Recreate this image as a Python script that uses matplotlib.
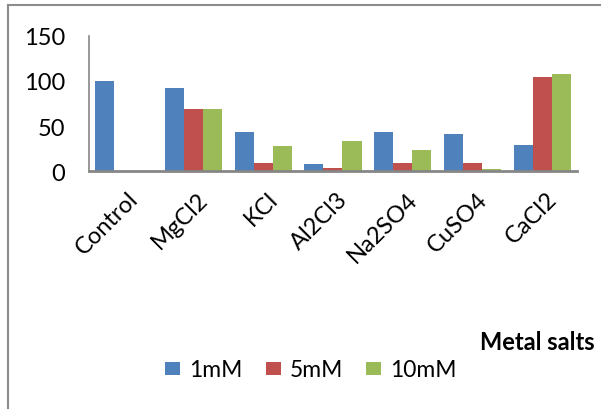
import numpy as np
import matplotlib
matplotlib.use('Agg')
import matplotlib.pyplot as plt
from matplotlib.lines import Line2D
from matplotlib.transforms import ScaledTranslation

plt.rcParams['font.family'] = ['Lato', 'DejaVu Sans']

salts = ['Control', 'MgCl2', 'KCl', 'Al2Cl3', 'Na2SO4', 'CuSO4', 'CaCl2']
conc_1mM = [100, 92, 43, 7.5, 43, 41, 28.5]
conc_5mM = [0, 69, 9.5, 3, 9.5, 9.5, 104]
conc_10mM = [0, 69, 27.5, 33, 24, 2, 107.5]

series = [('1mM', conc_1mM, '#4F81BD'),
          ('5mM', conc_5mM, '#C0504D'),
          ('10mM', conc_10mM, '#9BBB59')]

fig = plt.figure(figsize=(6.01, 4.10), dpi=100)
ax = fig.add_axes([0.148, 0.580, 0.812, 0.330])

x = np.arange(len(salts))
w = 0.273
for i, (name, vals, col) in enumerate(series):
    ax.bar(x + (i - 1) * w, vals, width=w, color=col, label=name, zorder=2)

ax.set_xlim(-0.5, len(salts) - 0.5)
ax.set_ylim(0, 150)
ax.set_yticks([0, 50, 100, 150])
ax.tick_params(axis='both', length=0, labelsize=17)
ax.tick_params(axis='y', pad=17)
ax.tick_params(axis='x', pad=12)
ax.set_xticks(x)
ax.set_xticklabels(salts, rotation=45, ha='right', rotation_mode='anchor')
# nudge rotated labels a little to the right
for lbl in ax.get_xticklabels():
    lbl.set_transform(lbl.get_transform() + ScaledTranslation(4 / 100, 0, fig.dpi_scale_trans))

for s in ['top', 'right']:
    ax.spines[s].set_visible(False)
ax.spines['left'].set_color('#868686')
ax.spines['left'].set_linewidth(1.2)
ax.spines['bottom'].set_color('#868686')
ax.spines['bottom'].set_linewidth(2)

# chart area border (left and top edges)
fig.add_artist(Line2D([8 / 601, 8 / 601], [0, 1 - 6 / 410], color='#8c8c8c', lw=1.5))
fig.add_artist(Line2D([8 / 601, 1], [1 - 6 / 410, 1 - 6 / 410], color='#8c8c8c', lw=1.5))

fig.text(480 / 601, 1 - 343 / 410, 'Metal salts', fontsize=17, fontweight='bold',
         ha='left', va='center')

fig.legend(loc='center', bbox_to_anchor=(311 / 601, 1 - 371 / 410), ncol=3, frameon=False,
           fontsize=16.5, handlelength=0.66, handleheight=0.5, handletextpad=0.4,
           columnspacing=1.0)

fig.savefig('out.png', dpi=100)
